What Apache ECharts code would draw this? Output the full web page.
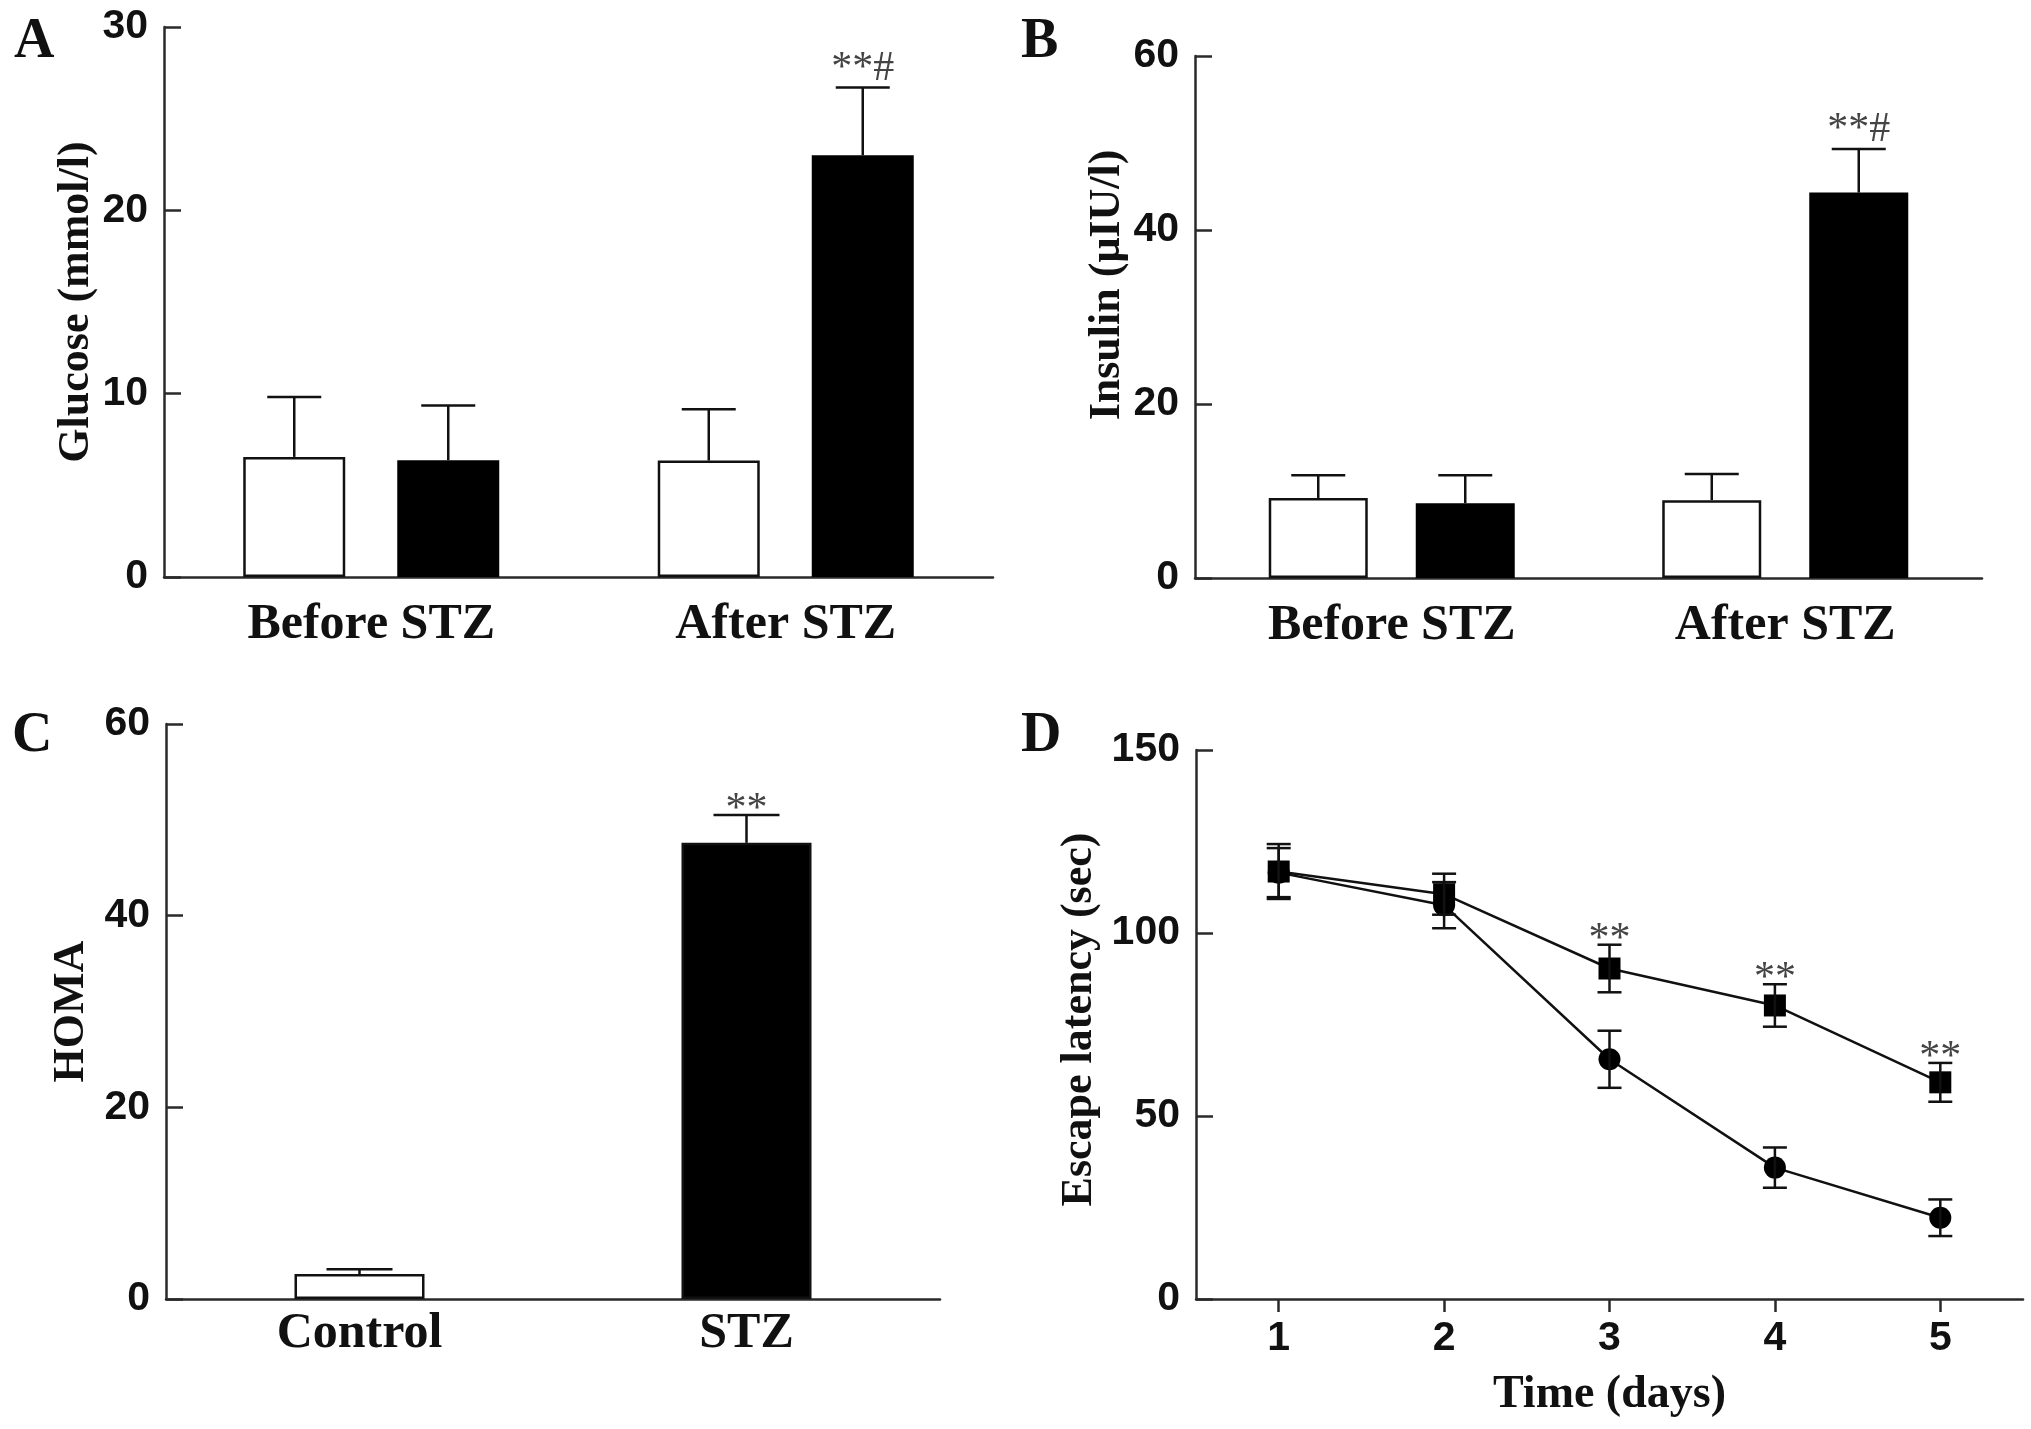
<!DOCTYPE html>
<html><head><meta charset="utf-8">
<script src="https://cdn.jsdelivr.net/npm/echarts@6/dist/echarts.min.js"></script>
<style>html,body{margin:0;padding:0;background:#fff}#c{width:2031px;height:1429px}</style>
</head><body><div id="c"></div>
<script>
// ---------------- data ----------------
const groupsAB = ['Before STZ', 'After STZ'];
const glucoseTicks = [0, 10, 20, 30];
const glucoseControl = [6.55, 6.35];
const glucoseControlSem = [3.27, 2.8];
const glucoseSTZ = [6.37, 23.0];
const glucoseSTZSem = [2.99, 3.7];
const glucoseSig = ['', '**#'];

const insulinTicks = [0, 20, 40, 60];
const insulinControl = [9.2, 8.95];
const insulinControlSem = [2.6, 3.0];
const insulinSTZ = [8.6, 44.3];
const insulinSTZSem = [3.2, 5.0];
const insulinSig = ['', '**#'];

const groupsC = ['Control', 'STZ'];
const homaTicks = [0, 20, 40, 60];
const homa = [2.6, 47.6];
const homaSem = [0.5, 2.9];
const homaSig = ['', '**'];

const days = ['1', '2', '3', '4', '5'];
const latencyTicks = [0, 50, 100, 150];
const latencyControl = [116.5, 107.6, 65.5, 35.9, 22.2];
const latencyControlSem = [6.7, 6.3, 7.8, 5.5, 5.0];
const latencySTZ = [116.8, 110.6, 90.3, 80.2, 59.2];
const latencySTZSem = [7.5, 5.6, 6.5, 5.8, 5.3];
const latencySig = ['', '', '**', '**', '**'];

// ---------------- style ----------------
const SERIF = '"Liberation Serif", "Times New Roman", serif';
const NARROW = '"Liberation Sans Narrow", "Liberation Sans", Arial, sans-serif';
const INK = '#111';
const AXIS = '#2a2a2a';
const LW = 2.5;
const homaFill = ['#ffffff', '#000000'];

function triple(vals, sems) { return vals.map((v, i) => [i, v, sems[i]]); }

function upperErr(offset, capHalf, sig, sigDy) {
  return function (params, api) {
    const i = api.value(0), m = api.value(1), e = api.value(2);
    const b = api.coord([i, m]);
    const t = api.coord([i, m + e]);
    const x = b[0] + offset;
    const st = { stroke: INK, lineWidth: LW };
    const ch = [
      { type: 'line', shape: { x1: x, y1: b[1], x2: x, y2: t[1] }, style: st },
      { type: 'line', shape: { x1: x - capHalf, y1: t[1], x2: x + capHalf, y2: t[1] }, style: st }
    ];
    const s = sig && sig[params.dataIndex];
    if (s) ch.push({ type: 'text', style: { text: s, x: x, y: t[1] + sigDy, align: 'center', verticalAlign: 'bottom', textAlign: 'center', textVerticalAlign: 'bottom', font: 'normal 42px ' + SERIF, fill: '#444' } });
    return { type: 'group', children: ch };
  };
}
function fullErr(capHalf, sig, sigDy) {
  return function (params, api) {
    const i = api.value(0), m = api.value(1), e = api.value(2);
    const lo = api.coord([i, m - e]);
    const hi = api.coord([i, m + e]);
    const x = lo[0];
    const st = { stroke: INK, lineWidth: LW };
    const ch = [
      { type: 'line', shape: { x1: x, y1: lo[1], x2: x, y2: hi[1] }, style: st },
      { type: 'line', shape: { x1: x - capHalf, y1: hi[1], x2: x + capHalf, y2: hi[1] }, style: st },
      { type: 'line', shape: { x1: x - capHalf, y1: lo[1], x2: x + capHalf, y2: lo[1] }, style: st }
    ];
    const s = sig && sig[params.dataIndex];
    if (s) ch.push({ type: 'text', style: { text: s, x: x, y: hi[1] + sigDy, align: 'center', verticalAlign: 'bottom', textAlign: 'center', textVerticalAlign: 'bottom', font: 'normal 42px ' + SERIF, fill: '#444' } });
    return { type: 'group', children: ch };
  };
}

function valueAxis(gi, ticks, name, nameGap, shiftUp) {
  return {
    type: 'value', gridIndex: gi,
    min: ticks[0], max: ticks[ticks.length - 1], interval: ticks[1] - ticks[0],
    name: name, nameLocation: 'middle', nameGap: nameGap, nameRotate: 90,
    nameTextStyle: { fontFamily: SERIF, fontWeight: 'bold', fontSize: 44, color: INK, padding: [0, 0, 0, shiftUp * 2] },
    axisLine: { show: true, lineStyle: { color: AXIS, width: LW } },
    axisTick: { show: true, inside: true, length: 17, lineStyle: { color: AXIS, width: LW } },
    axisLabel: { margin: 16, fontFamily: NARROW, fontWeight: 'bold', fontSize: 41, color: INK },
    splitLine: { show: false }
  };
}
function catAxis(gi, cats, margin) {
  return {
    type: 'category', gridIndex: gi, data: cats, boundaryGap: true,
    axisLine: { show: true, lineStyle: { color: AXIS, width: LW } },
    axisTick: { show: false },
    axisLabel: { margin: margin, fontFamily: SERIF, fontWeight: 'bold', fontSize: 50, color: INK, interval: 0 },
    splitLine: { show: false }
  };
}
function letter(t, left, top) {
  return { text: t, left: left, top: top, textStyle: { fontFamily: SERIF, fontWeight: 'bold', fontSize: 56, color: INK } };
}

const chart = echarts.init(document.getElementById('c'), null, { renderer: 'canvas' });
const option = {
  animation: false,
  backgroundColor: '#ffffff',
  title: [letter('A', 9, 10), letter('B', 1016, 10), letter('C', 7, 704), letter('D', 1016, 704)],
  grid: [
    { left: 164, top: 27, width: 829, height: 550 },
    { left: 1195, top: 56, width: 787, height: 522 },
    { left: 166, top: 724, width: 774, height: 575 },
    { left: 1196, top: 750, width: 827, height: 549 }
  ],
  xAxis: [
    catAxis(0, groupsAB, 23),
    catAxis(1, groupsAB, 23),
    catAxis(2, groupsC, 10),
    {
      type: 'category', gridIndex: 3, data: days, boundaryGap: true,
      name: 'Time (days)', nameLocation: 'middle', nameGap: 73,
      nameTextStyle: { fontFamily: SERIF, fontWeight: 'bold', fontSize: 46, color: INK },
      axisLine: { show: true, lineStyle: { color: AXIS, width: LW } },
      axisTick: { show: true, alignWithLabel: true, length: 13, lineStyle: { color: AXIS, width: LW } },
      axisLabel: { margin: 19, fontFamily: NARROW, fontWeight: 'bold', fontSize: 41, color: INK },
      splitLine: { show: false }
    }
  ],
  yAxis: [
    valueAxis(0, glucoseTicks, 'Glucose (mmol/l)', 64, 0),
    valueAxis(1, insulinTicks, 'Insulin (\u03bcIU/l)', 64, 32),
    valueAxis(2, homaTicks, 'HOMA', 72, 0),
    valueAxis(3, latencyTicks, 'Escape latency (sec)', 94, 5)
  ],
  series: [
    // A
    { type: 'bar', xAxisIndex: 0, yAxisIndex: 0, data: glucoseControl, barWidth: 102, barGap: '51%',
      itemStyle: { color: '#fff', borderColor: INK, borderWidth: LW } },
    { type: 'bar', xAxisIndex: 0, yAxisIndex: 0, data: glucoseSTZ, barWidth: 102, barGap: '51%',
      itemStyle: { color: '#000', borderColor: '#000', borderWidth: LW } },
    { type: 'custom', xAxisIndex: 0, yAxisIndex: 0, data: triple(glucoseControl, glucoseControlSem), renderItem: upperErr(-77, 27, null, 0), z: 5 },
    { type: 'custom', xAxisIndex: 0, yAxisIndex: 0, data: triple(glucoseSTZ, glucoseSTZSem), renderItem: upperErr(77, 27, glucoseSig, 2), z: 5 },
    // B
    { type: 'bar', xAxisIndex: 1, yAxisIndex: 1, data: insulinControl, barWidth: 99, barGap: '48.5%',
      itemStyle: { color: '#fff', borderColor: INK, borderWidth: LW } },
    { type: 'bar', xAxisIndex: 1, yAxisIndex: 1, data: insulinSTZ, barWidth: 99, barGap: '48.5%',
      itemStyle: { color: '#000', borderColor: '#000', borderWidth: LW } },
    { type: 'custom', xAxisIndex: 1, yAxisIndex: 1, data: triple(insulinControl, insulinControlSem), renderItem: upperErr(-73.5, 27, null, 0), z: 5 },
    { type: 'custom', xAxisIndex: 1, yAxisIndex: 1, data: triple(insulinSTZ, insulinSTZSem), renderItem: upperErr(73.5, 27, insulinSig, 2), z: 5 },
    // C
    { type: 'bar', xAxisIndex: 2, yAxisIndex: 2, data: homa, barWidth: 130,
      itemStyle: { color: (p) => homaFill[p.dataIndex], borderColor: INK, borderWidth: LW } },
    { type: 'custom', xAxisIndex: 2, yAxisIndex: 2, data: triple(homa, homaSem), renderItem: upperErr(0, 33, homaSig, 16), z: 5 },
    // D
    { type: 'line', xAxisIndex: 3, yAxisIndex: 3, data: latencyControl, symbol: 'circle', symbolSize: 22,
      lineStyle: { color: INK, width: LW }, itemStyle: { color: '#000' } },
    { type: 'line', xAxisIndex: 3, yAxisIndex: 3, data: latencySTZ, symbol: 'rect', symbolSize: 22,
      lineStyle: { color: INK, width: LW }, itemStyle: { color: '#000' } },
    { type: 'custom', xAxisIndex: 3, yAxisIndex: 3, data: triple(latencyControl, latencyControlSem), renderItem: fullErr(12, null, 0), z: 5 },
    { type: 'custom', xAxisIndex: 3, yAxisIndex: 3, data: triple(latencySTZ, latencySTZSem), renderItem: fullErr(12, latencySig, 16), z: 5 }
  ]
};
chart.setOption(option);
</script>
</body></html>
